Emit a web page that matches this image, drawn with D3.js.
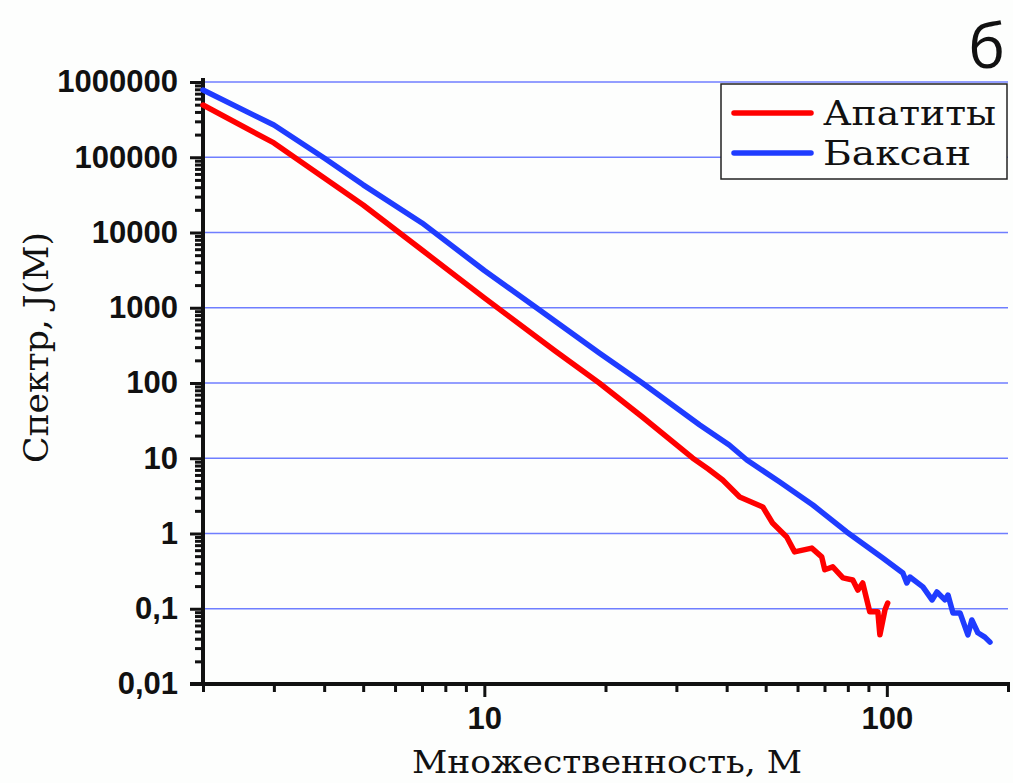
<!DOCTYPE html>
<html>
<head>
<meta charset="utf-8">
<title>Спектр множественности</title>
<script src="https://d3js.org/d3.v7.min.js"></script>
<style>
    body { margin: 0; background: #fdfefd; }
    .tick text { font-family: "Liberation Sans", Arial, sans-serif; font-weight: bold; font-size: 31px; fill: #111; }
    .title { font-family: "DejaVu Serif", "Liberation Serif", serif; font-size: 33px; fill: #111; }
    .grid line { stroke: #6f7eff; stroke-width: 1.5px; }
    .curve { fill: none; stroke-width: 5.5px; stroke-linejoin: round; stroke-linecap: round; }
</style>
</head>
<body>
<div id="chart"></div>
<script>
    // series (M = multiplicity, J = spectrum)
    const apatityM = [2, 3, 5, 7, 10, 15, 19.3, 24.7, 32.9, 36, 39.1, 43.1, 49.2, 52, 56.4, 59, 65.1, 68.9, 70.1, 73.4, 77.8, 82.3, 84.7, 87.1, 90.7, 95, 96.1, 98.9, 100.5];
    const apatityJ = [494000, 155000, 23200, 5850, 1350, 266, 100, 35.3, 10.1, 7.2, 5.14, 3.05, 2.25, 1.38, 0.9, 0.57, 0.64, 0.49, 0.33, 0.36, 0.257, 0.241, 0.177, 0.22, 0.091, 0.091, 0.045, 0.096, 0.119];

    const baksanM = [2, 3, 4, 5, 7, 10, 13.5, 19.3, 24.7, 34.3, 40.6, 44.9, 54.2, 65.5, 79.5, 97.7, 109.6, 112.1, 114.1, 122.9, 129.5, 133.2, 139.4, 141.9, 146, 152, 159, 162.6, 168.3, 175.2, 180.4];
    const baksanJ = [783000, 268000, 97700, 43000, 13400, 3130, 993, 250, 100, 27.7, 15, 9.48, 4.83, 2.39, 1.05, 0.472, 0.299, 0.22, 0.264, 0.195, 0.131, 0.167, 0.131, 0.152, 0.088, 0.088, 0.045, 0.071, 0.048, 0.042, 0.036];

    const seriesNames = ["Апатиты", "Баксан"];
    const seriesColors = ["#ff0000", "#1f3cff"];

    const yMajor = [0.01, 0.1, 1, 10, 100, 1000, 10000, 100000, 1000000];
    const xMajor = [10, 100];
    const xMinor = [2, 3, 4, 5, 6, 7, 8, 9, 20, 30, 40, 50, 60, 70, 80, 90, 200];

    const width = 1013, height = 783;
    const plotLeft = 203, plotRight = 1008, plotTop = 82, plotBottom = 684;

    const svg = d3.select("#chart").append("svg")
        .attr("width", width).attr("height", height);

    const x = d3.scaleLog().domain([2, 200]).range([plotLeft, plotRight]);
    const y = d3.scaleLog().domain([0.01, 1000000]).range([plotBottom, plotTop]);

    // minor y ticks 2..9 per decade
    const yMinor = [];
    for (let i = 0; i < yMajor.length - 1; i++)
        for (let k = 2; k <= 9; k++) yMinor.push(yMajor[i] * k);

    // grid lines
    svg.append("g").attr("class", "grid")
        .selectAll("line")
        .data(yMajor.slice(1))
        .join("line")
        .attr("x1", plotLeft).attr("x2", plotRight)
        .attr("y1", d => y(d)).attr("y2", d => y(d));

    const fmt = d => d >= 1 ? d3.format("d")(d) : String(d).replace(".", ",");

    // y axis
    const gy = svg.append("g").attr("transform", `translate(${plotLeft},0)`);
    gy.append("g")
        .call(d3.axisLeft(y).tickValues(yMinor).tickSize(8).tickFormat(""))
        .call(g => g.select(".domain").remove());
    gy.append("g")
        .call(d3.axisLeft(y).tickValues(yMajor).tickSize(13).tickPadding(12).tickFormat(fmt))
        .call(g => g.select(".domain").remove());
    gy.selectAll(".tick line").attr("stroke", "#111").attr("stroke-width", 3);

    // x axis
    const gx = svg.append("g").attr("transform", `translate(0,${plotBottom})`);
    gx.append("g")
        .call(d3.axisBottom(x).tickValues(xMinor).tickSize(8).tickFormat(""))
        .call(g => g.select(".domain").remove());
    gx.append("g")
        .call(d3.axisBottom(x).tickValues(xMajor).tickSize(13).tickPadding(10).tickFormat(d3.format("d")))
        .call(g => g.select(".domain").remove());
    gx.selectAll(".tick line").attr("stroke", "#111").attr("stroke-width", 3);

    // axis lines
    svg.append("line").attr("x1", plotLeft).attr("x2", plotLeft).attr("y1", plotTop - 4).attr("y2", plotBottom + 2)
        .attr("stroke", "#111").attr("stroke-width", 4);
    svg.append("line").attr("x1", plotLeft - 13).attr("x2", plotRight + 2).attr("y1", plotBottom).attr("y2", plotBottom)
        .attr("stroke", "#111").attr("stroke-width", 4);

    // curves
    const line = d3.line().x(d => x(d[0])).y(d => y(d[1]));
    const series = [d3.zip(apatityM, apatityJ), d3.zip(baksanM, baksanJ)];
    svg.selectAll(".curve")
        .data(series)
        .join("path")
        .attr("class", "curve")
        .attr("stroke", (d, i) => seriesColors[i])
        .attr("d", line);

    // axis titles
    svg.append("text").attr("class", "title")
        .attr("x", 412).attr("y", 773)
        .style("font-size", "31px")
        .attr("textLength", 390).attr("lengthAdjust", "spacingAndGlyphs")
        .text("Множественность, М");
    svg.append("text").attr("class", "title")
        .attr("transform", "translate(48,463) rotate(-90)")
        .attr("textLength", 231).attr("lengthAdjust", "spacingAndGlyphs")
        .text("Спектр, J(M)");

    // panel letter
    svg.append("text")
        .attr("x", 1005).attr("y", 68)
        .attr("text-anchor", "end")
        .attr("font-family", "'Open Sans', 'DejaVu Sans', sans-serif")
        .attr("font-size", 62)
        .attr("fill", "#111")
        .text("б");

    // legend
    const legendWidths = [173, 148];
    const legend = svg.append("g").attr("transform", "translate(721,84)");
    legend.append("rect").attr("width", 286).attr("height", 95)
        .attr("fill", "#fdfefd").attr("stroke", "#222").attr("stroke-width", 1.5);
    seriesNames.forEach((name, i) => {
        const ly = 29 + i * 40;
        legend.append("line").attr("x1", 13).attr("x2", 90).attr("y1", ly).attr("y2", ly)
            .attr("stroke", seriesColors[i]).attr("stroke-width", 5.5).attr("stroke-linecap", "round");
        legend.append("text").attr("class", "title")
            .attr("x", 102).attr("y", ly + 12)
            .attr("textLength", legendWidths[i]).attr("lengthAdjust", "spacingAndGlyphs")
            .text(name);
    });
</script>
</body>
</html>
